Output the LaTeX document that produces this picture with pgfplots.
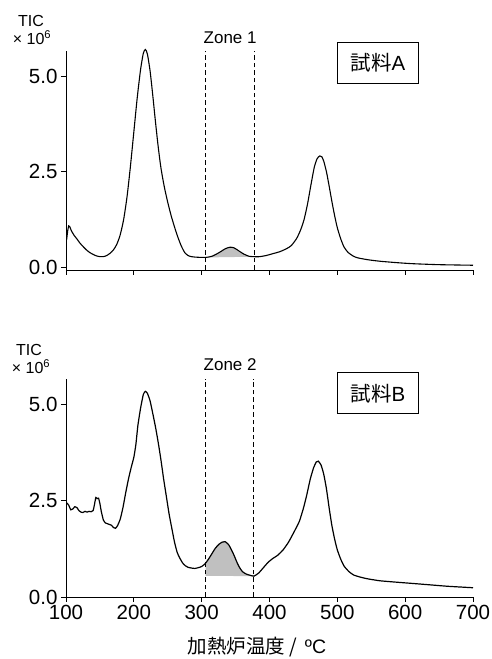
\documentclass[border=0pt]{standalone}
\usepackage{pgfplots}
\pgfplotsset{compat=1.18}
\usepackage{fontspec}
\setmainfont{Liberation Sans}
\newfontfamily\cjk{Noto Sans CJK JP}
\definecolor{fillgray}{RGB}{192,192,192}
\pgfplotsset{
  chart/.style={
    scale only axis, width=407pt,
    axis lines=left, axis line style={-, line width=0.9pt},
    xmin=100, xmax=700, xtick={100,200,...,700},
    ytick={0,2.5,5},
    tick align=outside, major tick length=5pt,
    tick style={line width=0.9pt, black},
    /pgf/number format/assume math mode=true,
    yticklabel style={/pgf/number format/fixed, /pgf/number format/fixed zerofill, /pgf/number format/precision=1},
    ticklabel style={font=\fontsize{20.5}{24}\selectfont},
    clip=false, anchor=south west,
  }
}
\begin{document}
\begin{tikzpicture}
\path[use as bounding box] (0,0) rectangle (492pt,659pt);
% ---------- top panel: sample A
\begin{axis}[chart, at={(66pt,389pt)}, height=219pt, ymin=-0.08, ymax=5.68, xticklabels={,,}]
\addplot[fill=fillgray, draw=none] coordinates {
(306,0.25) (315,0.28) (325,0.37) (335,0.48) (342,0.52) (348,0.50) (355,0.42) (362,0.34) (370,0.28) (378,0.27) (306,0.25)};
\addplot[black, line width=0.8pt, dash pattern=on 4.5pt off 3pt] coordinates {(306,-0.08) (306,5.68)};
\addplot[black, line width=0.8pt, dash pattern=on 4.5pt off 3pt] coordinates {(378,-0.08) (378,5.68)};
\addplot[black, line width=1.1pt, smooth, tension=0.4] coordinates {
(101,0.72) (102.5,0.95) (104,1.08) (105.5,1.06) (108,0.95) (112,0.83) (116,0.74) (120,0.64)
(125,0.54) (130,0.45) (135,0.38) (140,0.33) (145,0.29) (150,0.27) (155,0.27) (160,0.30)
(165,0.36) (170,0.45) (175,0.60) (180,0.85) (185,1.25) (190,1.85) (195,2.65) (200,3.55)
(205,4.45) (210,5.20) (214,5.62) (217,5.72) (220,5.60) (224,5.15) (228,4.50) (232,3.80)
(236,3.15) (240,2.60) (245,2.10) (250,1.70) (255,1.35) (260,1.05) (265,0.78) (270,0.55)
(275,0.38) (280,0.30) (285,0.27) (290,0.26) (300,0.25) (306,0.25) (315,0.28) (325,0.37)
(335,0.48) (342,0.52) (348,0.50) (355,0.42) (362,0.34) (370,0.28) (378,0.27) (385,0.27)
(395,0.30) (405,0.35) (415,0.40) (425,0.48) (432,0.56) (440,0.75) (446,0.98) (451,1.25)
(456,1.65) (461,2.15) (466,2.62) (470,2.84) (474,2.92) (477,2.90) (480,2.78) (484,2.50)
(488,2.12) (492,1.72) (496,1.35) (500,1.03) (505,0.74) (510,0.52) (516,0.38) (523,0.29)
(530,0.24) (545,0.19) (563,0.15) (590,0.11) (612,0.085) (650,0.06) (700,0.045)};
\node[font=\fontsize{17}{20}\selectfont] at (axis cs:342,6.02) {Zone 1};
\node[draw, line width=0.9pt, minimum width=81pt, minimum height=41pt, inner sep=0pt,
      font=\fontsize{20.5}{24}\selectfont] at (axis cs:560,5.36) {{\cjk 試料}A};
\end{axis}
% ---------- bottom panel: sample B
\begin{axis}[chart, at={(66pt,62pt)}, height=218pt, ymin=0, ymax=5.65]
\addplot[fill=fillgray, draw=none] coordinates {
(306,0.55) (306,0.88) (310,0.98) (315,1.12) (320,1.26) (325,1.36) (330,1.42) (335,1.43)
(340,1.35) (344,1.22) (348,1.07) (352,0.90) (356,0.76) (360,0.66) (365,0.60) (370,0.57)
(377,0.54) (306,0.55)};
\addplot[black, line width=0.8pt, dash pattern=on 4.5pt off 3pt] coordinates {(306,0) (306,5.65)};
\addplot[black, line width=0.8pt, dash pattern=on 4.5pt off 3pt] coordinates {(377,0) (377,5.65)};
\addplot[black, line width=1.2pt, smooth, tension=0.3] coordinates {
(101,2.44) (104,2.38) (107,2.26) (110,2.28) (113,2.34) (116,2.32) (119,2.24) (122,2.20)
(125,2.19) (128,2.22) (131,2.20) (134,2.22) (137,2.21) (140,2.24) (142,2.40) (144,2.58)
(146,2.55) (148,2.56) (150,2.42) (152,2.22) (155,2.00) (158,1.92) (161,1.90) (164,1.88)
(167,1.86) (170,1.80) (173,1.78) (176,1.85) (180,2.02) (184,2.32) (188,2.70) (192,3.05)
(196,3.35) (200,3.62) (203,3.95) (206,4.45) (210,4.90) (214,5.25) (217,5.33) (220,5.28)
(224,5.08) (228,4.75) (232,4.40) (236,4.00) (240,3.55) (244,3.05) (248,2.60) (252,2.15)
(256,1.78) (260,1.42) (264,1.15) (268,1.00) (272,0.88) (276,0.81) (280,0.77) (285,0.75)
(290,0.74) (295,0.76) (300,0.79) (305,0.86) (310,0.98) (315,1.12) (320,1.26) (325,1.36)
(330,1.42) (335,1.43) (340,1.35) (344,1.22) (348,1.07) (352,0.90) (356,0.76) (360,0.66)
(365,0.60) (370,0.57) (377,0.54) (384,0.62) (391,0.76) (398,0.90) (405,1.00) (412,1.08)
(420,1.22) (428,1.42) (436,1.68) (444,1.96) (450,2.30) (455,2.65) (460,3.05) (465,3.35)
(469,3.50) (472,3.52) (476,3.42) (480,3.18) (484,2.80) (488,2.30) (492,1.85) (496,1.50)
(500,1.22) (505,0.98) (510,0.80) (517,0.66) (524,0.57) (535,0.51) (545,0.47) (563,0.42)
(590,0.38) (612,0.35) (640,0.31) (661,0.28) (680,0.26) (700,0.24)};
\node[font=\fontsize{17}{20}\selectfont] at (axis cs:342,6.02) {Zone 2};
\node[draw, line width=0.9pt, minimum width=81pt, minimum height=41pt, inner sep=0pt,
      font=\fontsize{20.5}{24}\selectfont] at (axis cs:560,5.28) {{\cjk 試料}B};
\end{axis}
% ---------- axis titles
\node[font=\fontsize{16}{19}\selectfont] at (31pt,638pt) {TIC};
\node[font=\fontsize{16}{19}\selectfont] at (32pt,621pt) {× 10\textsuperscript{6}};
\node[font=\fontsize{16}{19}\selectfont] at (29pt,309pt) {TIC};
\node[font=\fontsize{16}{19}\selectfont] at (31pt,292pt) {× 10\textsuperscript{6}};
\node[font=\fontsize{19.5}{23}\selectfont, inner sep=0pt] at (257pt,12pt) {{\cjk 加熱炉温度}\hspace{4pt}{\cjk /}\hspace{8pt}ºC};
\end{tikzpicture}
\end{document}
